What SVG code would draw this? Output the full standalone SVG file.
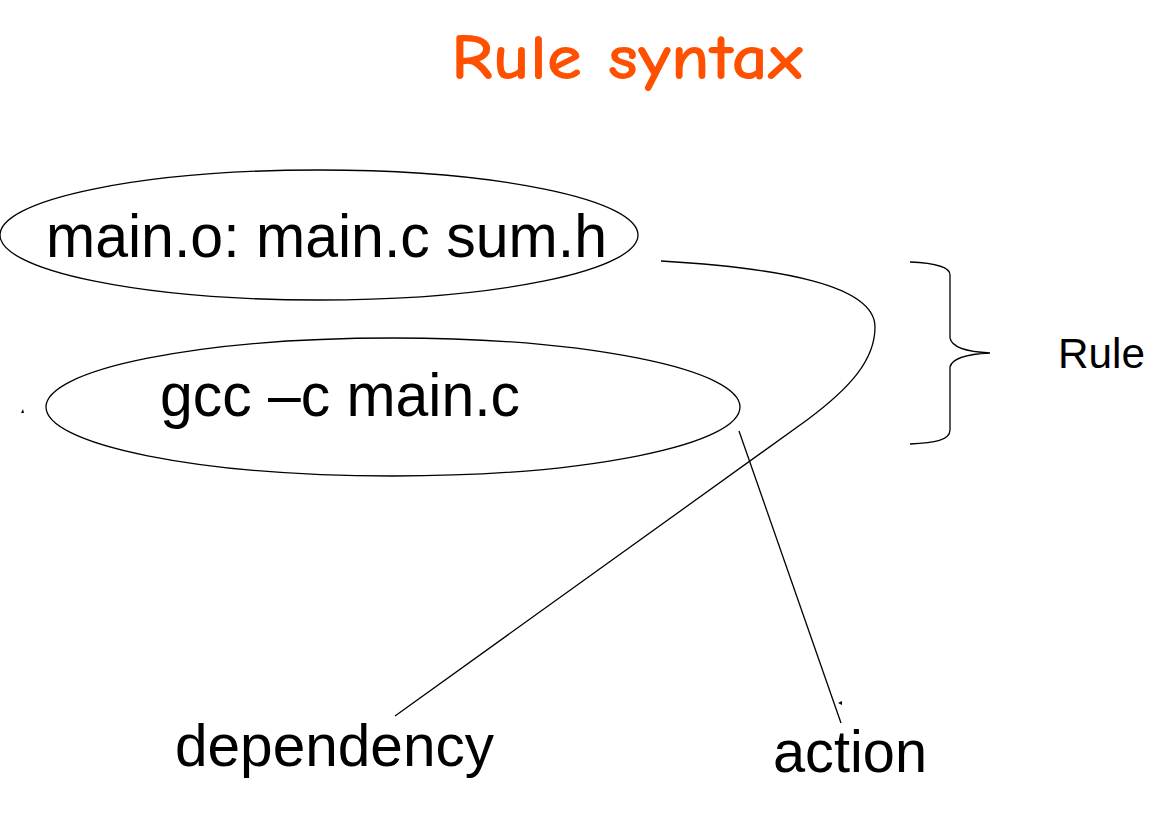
<svg xmlns="http://www.w3.org/2000/svg" width="1174" height="823" viewBox="0 0 1174 823">
<style>
.shape{fill:none;stroke:#000;stroke-width:1.3}
.lbl{font-family:"Liberation Sans",Arial,sans-serif;fill:#000}
.title{font-family:"Comic Sans MS","Comic Neue","Open Sans",sans-serif;fill:#FF5000;font-size:64px;font-weight:bold}
.tick{fill:#000}
</style>
<rect width="1174" height="823" fill="#fff"/>
<text class="title" x="451" y="79" textLength="352" lengthAdjust="spacingAndGlyphs">Rule syntax</text>
<g id="node-dependency-line">
<ellipse class="shape" cx="319" cy="235" rx="319" ry="65"/>
<text class="lbl" x="46" y="257" font-size="62" textLength="561" lengthAdjust="spacingAndGlyphs">main.o: main.c sum.h</text>
</g>
<g id="node-action-line">
<ellipse class="shape" cx="393" cy="407" rx="347" ry="69"/>
<text class="lbl" x="160" y="416" font-size="62" textLength="360" lengthAdjust="spacingAndGlyphs">gcc –c main.c</text>
</g>
<g id="node-rule-brace">
<path class="shape" d="M910,262 C935,263 950,267 950,275 L950,338 C952,348 970,352 990,353 C970,354 952,358 950,367 L950,430 C950,440 935,443 910,444"/>
<text class="lbl" x="1058" y="368" font-size="43" textLength="87" lengthAdjust="spacingAndGlyphs">Rule</text>
</g>
<g id="node-dependency-label">
<text class="lbl" x="175" y="766" font-size="60" textLength="319" lengthAdjust="spacingAndGlyphs">dependency</text>
</g>
<g id="node-action-label">
<text class="lbl" x="773" y="772" font-size="60" textLength="154" lengthAdjust="spacingAndGlyphs">action</text>
</g>
<g id="connectors">
<path class="shape" d="M661,261 C780,268 875,285 875,327 C875,360 850,388 807,420 L395,716"/>
<path class="shape" d="M739,431 L841,723"/>
<polygon class="tick" points="21,413 23,409 24,413"/>
<polygon class="tick" points="838,703 842,701 842,705"/>
</g>
</svg>
